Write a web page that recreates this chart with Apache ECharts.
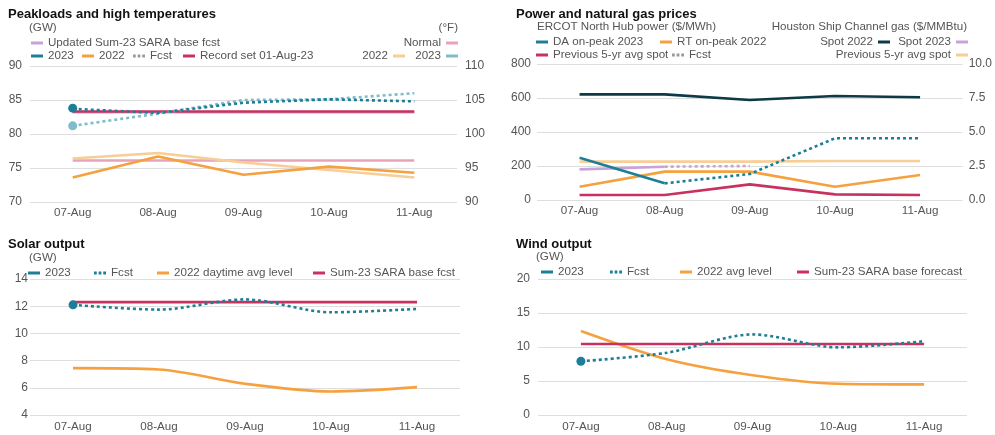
<!DOCTYPE html>
<html>
<head>
<meta charset="utf-8">
<script src="https://cdn.jsdelivr.net/npm/echarts@6/dist/echarts.min.js"></script>
<style>
html, body { margin: 0; padding: 0; background: #fff; }
#chart { width: 995px; height: 435px; }
</style>
</head>
<body>
<div id="chart"></div>
<script>
// categories
const days = ['07-Aug', '08-Aug', '09-Aug', '10-Aug', '11-Aug'];

// peakloads (GW)
const loadSara23 = [83.2, 83.2, 83.2, 83.2, 83.2];
const loadRecord = [83.3, 83.3, 83.3, 83.3, 83.3];
const load2023 = [83.8, null, null, null, null];
const loadFcst = [83.7, 83.1, 84.6, 85.1, 84.8];
const load2022 = [73.6, 76.7, 74.0, 75.2, 74.3];
// high temperatures (°F)
const tempNormal = [96.1, 96.1, 96.1, 96.1, 96.1];
const temp2022 = [96.4, 97.2, 95.8, 94.7, 93.6];
const temp2023 = [101.2, null, null, null, null];
const tempFcst = [101.2, 103.0, 105.0, 105.1, 106.0];

// power ($/MWh)
const daPeak2023 = [249, 98, null, null, null];
const daPeakFcst = [null, 98, 153, 363, 363];
const rtPeak2022 = [78, 167, 167, 78, 147];
const power5yr = [29, 29, 92, 33, 29];
// gas ($/MMBtu)
const gasSpot2022 = [7.77, 7.77, 7.35, 7.65, 7.55];
const gasSpot2023 = [2.25, 2.45, null, null, null];
const gasSpotFcst = [null, 2.45, 2.5, null, null];
const gas5yr = [2.82, 2.82, 2.82, 2.87, 2.87];

// solar (GW)
const solar2023 = [12.1, null, null, null, null];
const solarFcst = [12.1, 11.75, 12.5, 11.55, 11.8];
const solar2022 = [7.45, 7.35, 6.3, 5.73, 6.05];
const solarSara = [12.3, 12.3, 12.3, 12.3, 12.3];

// wind (GW)
const wind2023 = [7.9, null, null, null, null];
const windFcst = [7.9, 9.15, 11.85, 9.95, 10.85];
const wind2022 = [12.35, 8.2, 5.85, 4.6, 4.5];
const windSara = [10.45, 10.45, 10.45, 10.45, 10.45];

const FONT = 'Liberation Sans, Arial, sans-serif';
const TXT = '#555';
const C = {
  teal: '#1d7f97', lteal: '#7fbccb', orange: '#f5a13f', lorange: '#f8cd96',
  red: '#c8325f', purple: '#c9a2d6', pink: '#e9a3b9', navy: '#0c3a45', grey: '#999'
};
const DOTS = 'path://M0,0h3v3h-3z M5,0h3v3h-3z M10,0h3v3h-3z';

// series names are unique, text after '#' is hidden in legends
function label(n) { return n.split('#')[0]; }

function line(name, data, color, gi, yi, opt) {
  opt = opt || {};
  return {
    name: name, type: 'line', data: data,
    xAxisIndex: gi, yAxisIndex: yi,
    showSymbol: !!opt.point, symbol: 'circle', symbolSize: 9,
    itemStyle: { color: color },
    lineStyle: { color: color, width: 2.6, type: opt.dotted ? [3, 3] : 'solid' },
    smooth: opt.smooth || false,
    connectNulls: false,
    z: opt.z || 2
  };
}

const series = [
  // peakloads
  line('Updated Sum-23 SARA base fcst', loadSara23, C.purple, 0, 0),
  line('Normal', tempNormal, C.pink, 0, 1),
  line('2022#t', temp2022, C.lorange, 0, 1),
  line('2022#l', load2022, C.orange, 0, 0),
  line('Record set 01-Aug-23', loadRecord, C.red, 0, 0),
  line('Fcst#t', tempFcst, C.lteal, 0, 1, { dotted: true }),
  line('2023#t', temp2023, C.lteal, 0, 1, { point: true }),
  line('Fcst', loadFcst, C.teal, 0, 0, { dotted: true, z: 3 }),
  line('2023#l', load2023, C.teal, 0, 0, { point: true, z: 3 }),
  // prices
  line('Spot 2022', gasSpot2022, C.navy, 1, 3),
  line('Previous 5-yr avg spot#g', gas5yr, C.lorange, 1, 3),
  line('Spot 2023', gasSpot2023, C.purple, 1, 3),
  line('Fcst#g', gasSpotFcst, C.purple, 1, 3, { dotted: true }),
  line('RT on-peak 2022', rtPeak2022, C.orange, 1, 2),
  line('Previous 5-yr avg spot#p', power5yr, C.red, 1, 2),
  line('DA on-peak 2023', daPeak2023, C.teal, 1, 2),
  line('Fcst#p', daPeakFcst, C.teal, 1, 2, { dotted: true }),
  // solar
  line('2022 daytime avg level', solar2022, C.orange, 2, 4, { smooth: 0.3 }),
  line('Sum-23 SARA base fcst', solarSara, C.red, 2, 4),
  line('Fcst#s', solarFcst, C.teal, 2, 4, { dotted: true, smooth: 0.3, z: 3 }),
  line('2023#s', solar2023, C.teal, 2, 4, { point: true, z: 3 }),
  // wind
  line('2022 avg level', wind2022, C.orange, 3, 5, { smooth: 0.3 }),
  line('Sum-23 SARA base forecast', windSara, C.red, 3, 5),
  line('Fcst#w', windFcst, C.teal, 3, 5, { dotted: true, smooth: 0.3, z: 3 }),
  line('2023#w', wind2023, C.teal, 3, 5, { point: true, z: 3 })
];

// one legend per item so each sits where the original has it
function leg(name, x, y, right, dotted, dotColor) {
  const item = { name: name, icon: dotted ? DOTS : 'rect' };
  if (dotColor) item.itemStyle = { color: dotColor };
  const l = {
    data: [item], top: y - 4, padding: 0, itemGap: 0,
    itemWidth: 12, itemHeight: 3,
    align: right ? 'right' : 'left',
    formatter: label, selectedMode: false,
    textStyle: { fontFamily: FONT, fontSize: 11.6, color: TXT }
  };
  if (right) l.right = 995 - x; else l.left = x;
  return l;
}

const legends = [
  leg('Updated Sum-23 SARA base fcst', 31, 41),
  leg('2023#l', 31, 54),
  leg('2022#l', 82, 54),
  leg('Fcst', 133, 54, false, true, C.grey),
  leg('Record set 01-Aug-23', 183, 54),
  leg('Normal', 458, 41, true),
  leg('2022#t', 405, 54, true),
  leg('2023#t', 458, 54, true),

  leg('DA on-peak 2023', 536, 40),
  leg('RT on-peak 2022', 660, 40),
  leg('Previous 5-yr avg spot#p', 536, 53),
  leg('Fcst#p', 672, 53, false, true, C.grey),
  leg('Spot 2022', 890, 40, true),
  leg('Spot 2023', 968, 40, true),
  leg('Previous 5-yr avg spot#g', 968, 53, true),

  leg('2023#s', 28, 271),
  leg('Fcst#s', 94, 271, false, true),
  leg('2022 daytime avg level', 157, 271),
  leg('Sum-23 SARA base fcst', 313, 271),

  leg('2023#w', 541, 270),
  leg('Fcst#w', 610, 270, false, true),
  leg('2022 avg level', 680, 270),
  leg('Sum-23 SARA base forecast', 797, 270)
];

function head(text, left, top) {
  return { text: text, left: left, top: top, padding: 0,
    textStyle: { fontFamily: FONT, fontSize: 13, fontWeight: 'bold', color: '#111' } };
}
function unit(text, pos, top) {
  const t = { text: text, top: top, padding: 0,
    textStyle: { fontFamily: FONT, fontSize: 11.6, fontWeight: 'normal', color: TXT } };
  return Object.assign(t, pos);
}

const titles = [
  head('Peakloads and high temperatures', 8, 8),
  head('Power and natural gas prices', 516, 8),
  head('Solar output', 8, 238),
  head('Wind output', 516, 238),
  unit('(GW)', { left: 29 }, 22),
  unit('(°F)', { right: 537 }, 22),
  unit('ERCOT North Hub power ($/MWh)', { left: 537 }, 21),
  unit('Houston Ship Channel gas ($/MMBtu)', { right: 28 }, 21),
  unit('(GW)', { left: 29 }, 252),
  unit('(GW)', { left: 536 }, 251)
];

const grids = [
  { left: 30, top: 66, width: 427, height: 136 },
  { left: 537, top: 64, width: 430, height: 136 },
  { left: 30, top: 279, width: 430, height: 136 },
  { left: 538, top: 279, width: 429, height: 136 }
];

const xAxes = grids.map(function (g, i) {
  return {
    type: 'category', gridIndex: i, data: days, boundaryGap: true,
    axisLine: { show: false }, axisTick: { show: false },
    axisLabel: { margin: i < 2 ? 5 : 6, color: TXT, fontFamily: FONT, fontSize: 11.6 }
  };
});

function yAx(gi, min, max, interval, right, margin, fmt) {
  return {
    type: 'value', gridIndex: gi, min: min, max: max, interval: interval,
    position: right ? 'right' : 'left',
    axisLine: { show: false }, axisTick: { show: false },
    splitLine: { show: !right, lineStyle: { color: '#dedede', width: 1 } },
    axisLabel: { margin: margin, color: TXT, fontFamily: FONT, fontSize: 12, formatter: fmt }
  };
}

const yAxes = [
  yAx(0, 70, 90, 5, false, 8),
  yAx(0, 90, 110, 5, true, 8),
  yAx(1, 0, 800, 200, false, 6),
  yAx(1, 0, 10, 2.5, true, 6, function (v) { return v.toFixed(1); }),
  yAx(2, 4, 14, 2, false, 2),
  yAx(3, 0, 20, 5, false, 8)
];

const chart = echarts.init(document.getElementById('chart'), null, { renderer: 'canvas' });
chart.setOption({
  animation: false,
  backgroundColor: '#fff',
  textStyle: { fontFamily: FONT },
  title: titles,
  legend: legends,
  grid: grids,
  xAxis: xAxes,
  yAxis: yAxes,
  series: series
});
</script>
</body>
</html>
